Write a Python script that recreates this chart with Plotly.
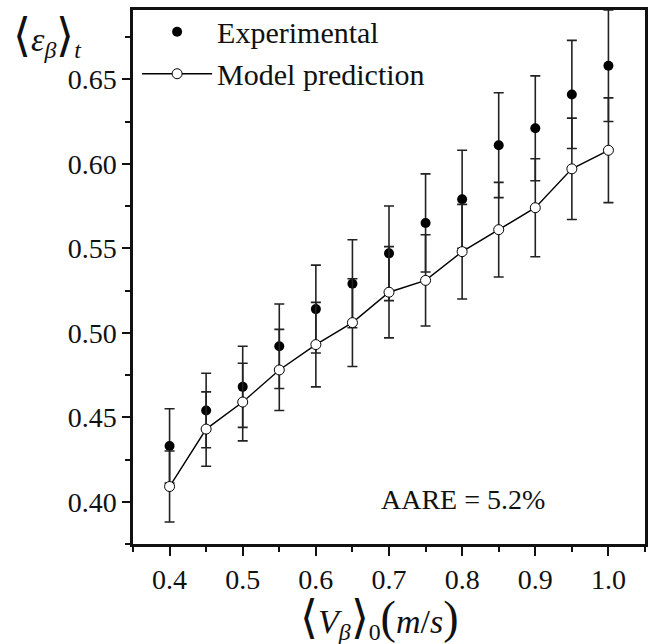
import plotly.graph_objects as go

# Inlet gas velocity <V_beta>_0 (m/s)
velocity = [0.40, 0.45, 0.50, 0.55, 0.60, 0.65, 0.70, 0.75, 0.80, 0.85, 0.90, 0.95, 1.00]

# Time-averaged holdup <eps_beta>_t, measured
experimental = [0.433, 0.454, 0.468, 0.492, 0.514, 0.529, 0.547, 0.565, 0.579, 0.611, 0.621, 0.641, 0.658]
experimental_err = [0.022, 0.022, 0.024, 0.025, 0.026, 0.026, 0.028, 0.029, 0.029, 0.031, 0.031, 0.032, 0.033]

# Time-averaged holdup <eps_beta>_t, model
model = [0.409, 0.443, 0.459, 0.478, 0.493, 0.506, 0.524, 0.531, 0.548, 0.561, 0.574, 0.597, 0.608]
model_err = [0.021, 0.022, 0.023, 0.024, 0.025, 0.026, 0.027, 0.027, 0.028, 0.028, 0.029, 0.030, 0.031]

x_ticks = [0.4, 0.5, 0.6, 0.7, 0.8, 0.9, 1.0]
y_ticks = [0.40, 0.45, 0.50, 0.55, 0.60, 0.65]

FONT = "Liberation Serif"
INK = "#111111"

fig = go.Figure()

fig.add_trace(go.Scatter(
    x=velocity, y=experimental, mode="markers", name="Experimental",
    marker=dict(symbol="circle", size=10, color="black"),
    error_y=dict(type="data", array=experimental_err, visible=True,
                 color="#222222", thickness=1.6, width=5),
))

fig.add_trace(go.Scatter(
    x=velocity, y=model, mode="lines+markers", name="Model prediction",
    line=dict(color="black", width=1.4),
    marker=dict(symbol="circle", size=10, color="white",
                line=dict(color="black", width=1)),
    error_y=dict(type="data", array=model_err, visible=True,
                 color="#222222", thickness=1.6, width=5),
))

fig.update_xaxes(
    range=[0.35, 1.05], tickvals=x_ticks, ticktext=[f"{v:.1f}" for v in x_ticks],
    ticks="outside", ticklen=9, tickwidth=2, tickcolor=INK,
    minor=dict(dtick=0.05, tick0=0.35, ticks="outside", ticklen=5, tickwidth=2, tickcolor=INK),
    showline=True, linewidth=2.5, linecolor=INK, mirror=True,
    showgrid=False, zeroline=False,
    tickfont=dict(family=FONT, size=28, color=INK),
)
fig.update_yaxes(
    range=[0.375, 0.691], tickvals=y_ticks, ticktext=[f"{v:.2f}" for v in y_ticks],
    ticks="outside", ticklen=8, tickwidth=2, tickcolor=INK,
    minor=dict(dtick=0.025, tick0=0.375, ticks="outside", ticklen=5, tickwidth=2, tickcolor=INK),
    showline=True, linewidth=2.5, linecolor=INK, mirror=True,
    showgrid=False, zeroline=False,
    tickfont=dict(family=FONT, size=28, color=INK),
)

BIG = "<span style='font-size:46px'>{}</span>"

# Axis titles
fig.add_annotation(
    xref="paper", yref="paper", x=-0.238, y=1.003, xanchor="left", yanchor="top",
    text=BIG.format("⟨") + "<i>ε</i><sub><i>β</i></sub>" + BIG.format("⟩") + "<sub><i>t</i></sub>",
    showarrow=False, font=dict(family=FONT, size=34, color=INK),
)
fig.add_annotation(
    xref="paper", yref="paper", x=0.48, y=-0.087, xanchor="center", yanchor="top",
    text=BIG.format("⟨") + "<i>V</i><sub><i>β</i></sub>" + BIG.format("⟩")
         + "<sub>0</sub>" + BIG.format("(") + "<i>m</i>/<i>s</i>" + BIG.format(")"),
    showarrow=False, font=dict(family=FONT, size=34, color=INK),
)

# Error statistic
fig.add_annotation(
    x=0.801, y=0.4016, xref="x", yref="y", text="AARE = 5.2%", showarrow=False,
    font=dict(family=FONT, size=28, color=INK),
)

fig.update_layout(
    width=651, height=644,
    margin=dict(l=133, r=3, t=10, b=100),
    paper_bgcolor="white", plot_bgcolor="white",
    showlegend=True,
    legend=dict(
        x=0.008, y=1.008, xanchor="left", yanchor="top",
        bgcolor="rgba(0,0,0,0)", borderwidth=0,
        font=dict(family=FONT, size=30, color=INK),
        tracegroupgap=0, itemwidth=70,
    ),
)

fig.write_html("out.html")
